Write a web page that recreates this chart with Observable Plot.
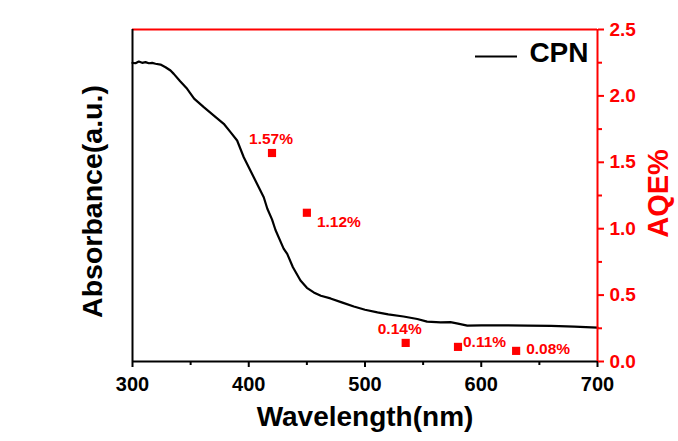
<!DOCTYPE html>
<html><head><meta charset="utf-8">
<script src="https://cdn.jsdelivr.net/npm/d3@7"></script>
<script src="https://cdn.jsdelivr.net/npm/@observablehq/plot@0.6"></script>
<style>
html,body{margin:0;padding:0;background:#fff;}
</style></head><body><div id="chart"></div>
<script>
// Absorbance spectrum (arbitrary units, drawn on the AQE scale)
const absWavelength = [300,302.6,305.4,308.3,311.2,314,316.9,319.8,324.1,328.4,332.7,335.5,341,347,353,361.3,370,378.5,384.3,390,395.7,404.3,412.9,416,420,423,430,433.1,438,444.5,450,455.9,462,470.3,480,490.4,500,510.7,520,533.1,545,553.4,565,573.5,580,588,600,620,640,660,680,700];
const absorbance    = [2.248,2.246,2.259,2.249,2.254,2.246,2.249,2.242,2.236,2.216,2.191,2.166,2.11,2.053,1.98,1.915,1.852,1.79,1.727,1.664,1.538,1.388,1.237,1.15,1.07,0.99,0.85,0.81,0.71,0.61,0.555,0.52,0.495,0.475,0.445,0.414,0.39,0.37,0.355,0.339,0.32,0.30,0.295,0.296,0.285,0.27,0.272,0.272,0.27,0.268,0.262,0.255];
// AQE points
const aqeWavelength = [420,450,535,580,630];
const aqeValue = [1.57,1.12,0.14,0.11,0.08];
const aqeLabel = ["1.57%","1.12%","0.14%","0.11%","0.08%"];
// Axes
const xTicks = [300,400,500,600,700];
const xMinorTicks = [350,450,550,650];
const yTicks = [0,0.5,1.0,1.5,2.0,2.5];
const yMinorTicks = [0.25,0.75,1.25,1.75,2.25];
const xTitle = "Wavelength(nm)";
const yLeftTitle = "Absorbance(a.u.)";
const yRightTitle = "AQE%";
const seriesName = "CPN";

const RED = "#ff0000";
const curve = absWavelength.map((w,i)=>({w, v: absorbance[i]}));
const pts = aqeWavelength.map((w,i)=>({w, v: aqeValue[i], label: aqeLabel[i]}));

// label placement relative to markers
const place = [
  {anchor:"middle", dx:-1, dy:-9},
  {anchor:"start", dx:10, dy:14},
  {anchor:"middle", dx:-6, dy:-9},
  {anchor:"start", dx:5, dy:0},
  {anchor:"start", dx:10, dy:3}
];

const W = 678, H = 441, mL = 132, mR = 81, mT = 29, mB = 80;

const plot = Plot.plot({
  width: W, height: H,
  marginLeft: mL, marginRight: mR, marginTop: mT, marginBottom: mB,
  style: {fontFamily: "'Liberation Sans', Arial, sans-serif", background: "#fff", color: "#000", overflow: "visible"},
  x: {domain: [300, 700]},
  y: {domain: [0, 2.5]},
  marks: [
    // frame
    Plot.ruleY([2.5], {stroke: RED, strokeWidth: 2}),
    Plot.ruleX([300], {stroke: "#000", strokeWidth: 2}),
    Plot.ruleY([0], {stroke: "#000", strokeWidth: 2}),
    // x axis
    Plot.axisX({ticks: xTicks, tickSize: 6, tickPadding: 9, strokeWidth: 2, fontSize: 20, fontWeight: "bold", label: null, tickFormat: d3.format("d"), color: "#000"}),
    Plot.axisX({ticks: xMinorTicks, tickSize: 4, strokeWidth: 2, text: null, label: null, color: "#000"}),
    // curve
    Plot.line(curve, {x: "w", y: "v", stroke: "#000", strokeWidth: 2.2}),
    // right axis
    Plot.ruleX([700], {stroke: RED, strokeWidth: 2}),
    Plot.axisY({anchor: "right", ticks: yTicks, tickSize: 6, tickPadding: 6, strokeWidth: 2, fontSize: 19, fontWeight: "bold", tickFormat: d3.format(".1f"), label: null, color: RED}),
    Plot.axisY({anchor: "right", ticks: yMinorTicks, tickSize: 4, strokeWidth: 2, text: null, label: null, color: RED}),
    // AQE markers
    Plot.dot(pts, {x: "w", y: "v", symbol: "square", r: 4.6, fill: RED, stroke: null}),
    ...pts.map((p,i)=>Plot.text([p], {x: "w", y: "v", text: "label", fill: RED, fontSize: 15.5, fontWeight: "bold",
       textAnchor: place[i].anchor, lineAnchor: "bottom", dx: place[i].dx, dy: place[i].dy})),
    // titles
    Plot.text([xTitle], {frameAnchor: "bottom", dy: 64, fontSize: 28, fontWeight: "bold", fill: "#000", textAnchor: "middle"}),
    Plot.text([yLeftTitle], {frameAnchor: "left", dx: -40, dy: 6, rotate: -90, textAnchor: "middle", lineAnchor: "middle", fontSize: 28.5, fontWeight: "bold", fill: "#000"}),
    Plot.text([yRightTitle], {frameAnchor: "right", dx: 61, dy: -2, rotate: -90, textAnchor: "middle", lineAnchor: "middle", fontSize: 29, fontWeight: "bold", fill: RED}),
    // legend text
    Plot.text([seriesName], {frameAnchor: "top-right", dx: -9, dy: 13, lineAnchor: "top", textAnchor: "end", fontSize: 28, fontWeight: "bold", fill: "#000"})
  ]
});

// legend swatch
const right = W - mR;
d3.select(plot).append("line")
  .attr("x1", right - 122).attr("x2", right - 80)
  .attr("y1", mT + 27.5).attr("y2", mT + 27.5)
  .attr("stroke", "#000").attr("stroke-width", 2);

document.getElementById("chart").appendChild(plot);
</script>
</body></html>
